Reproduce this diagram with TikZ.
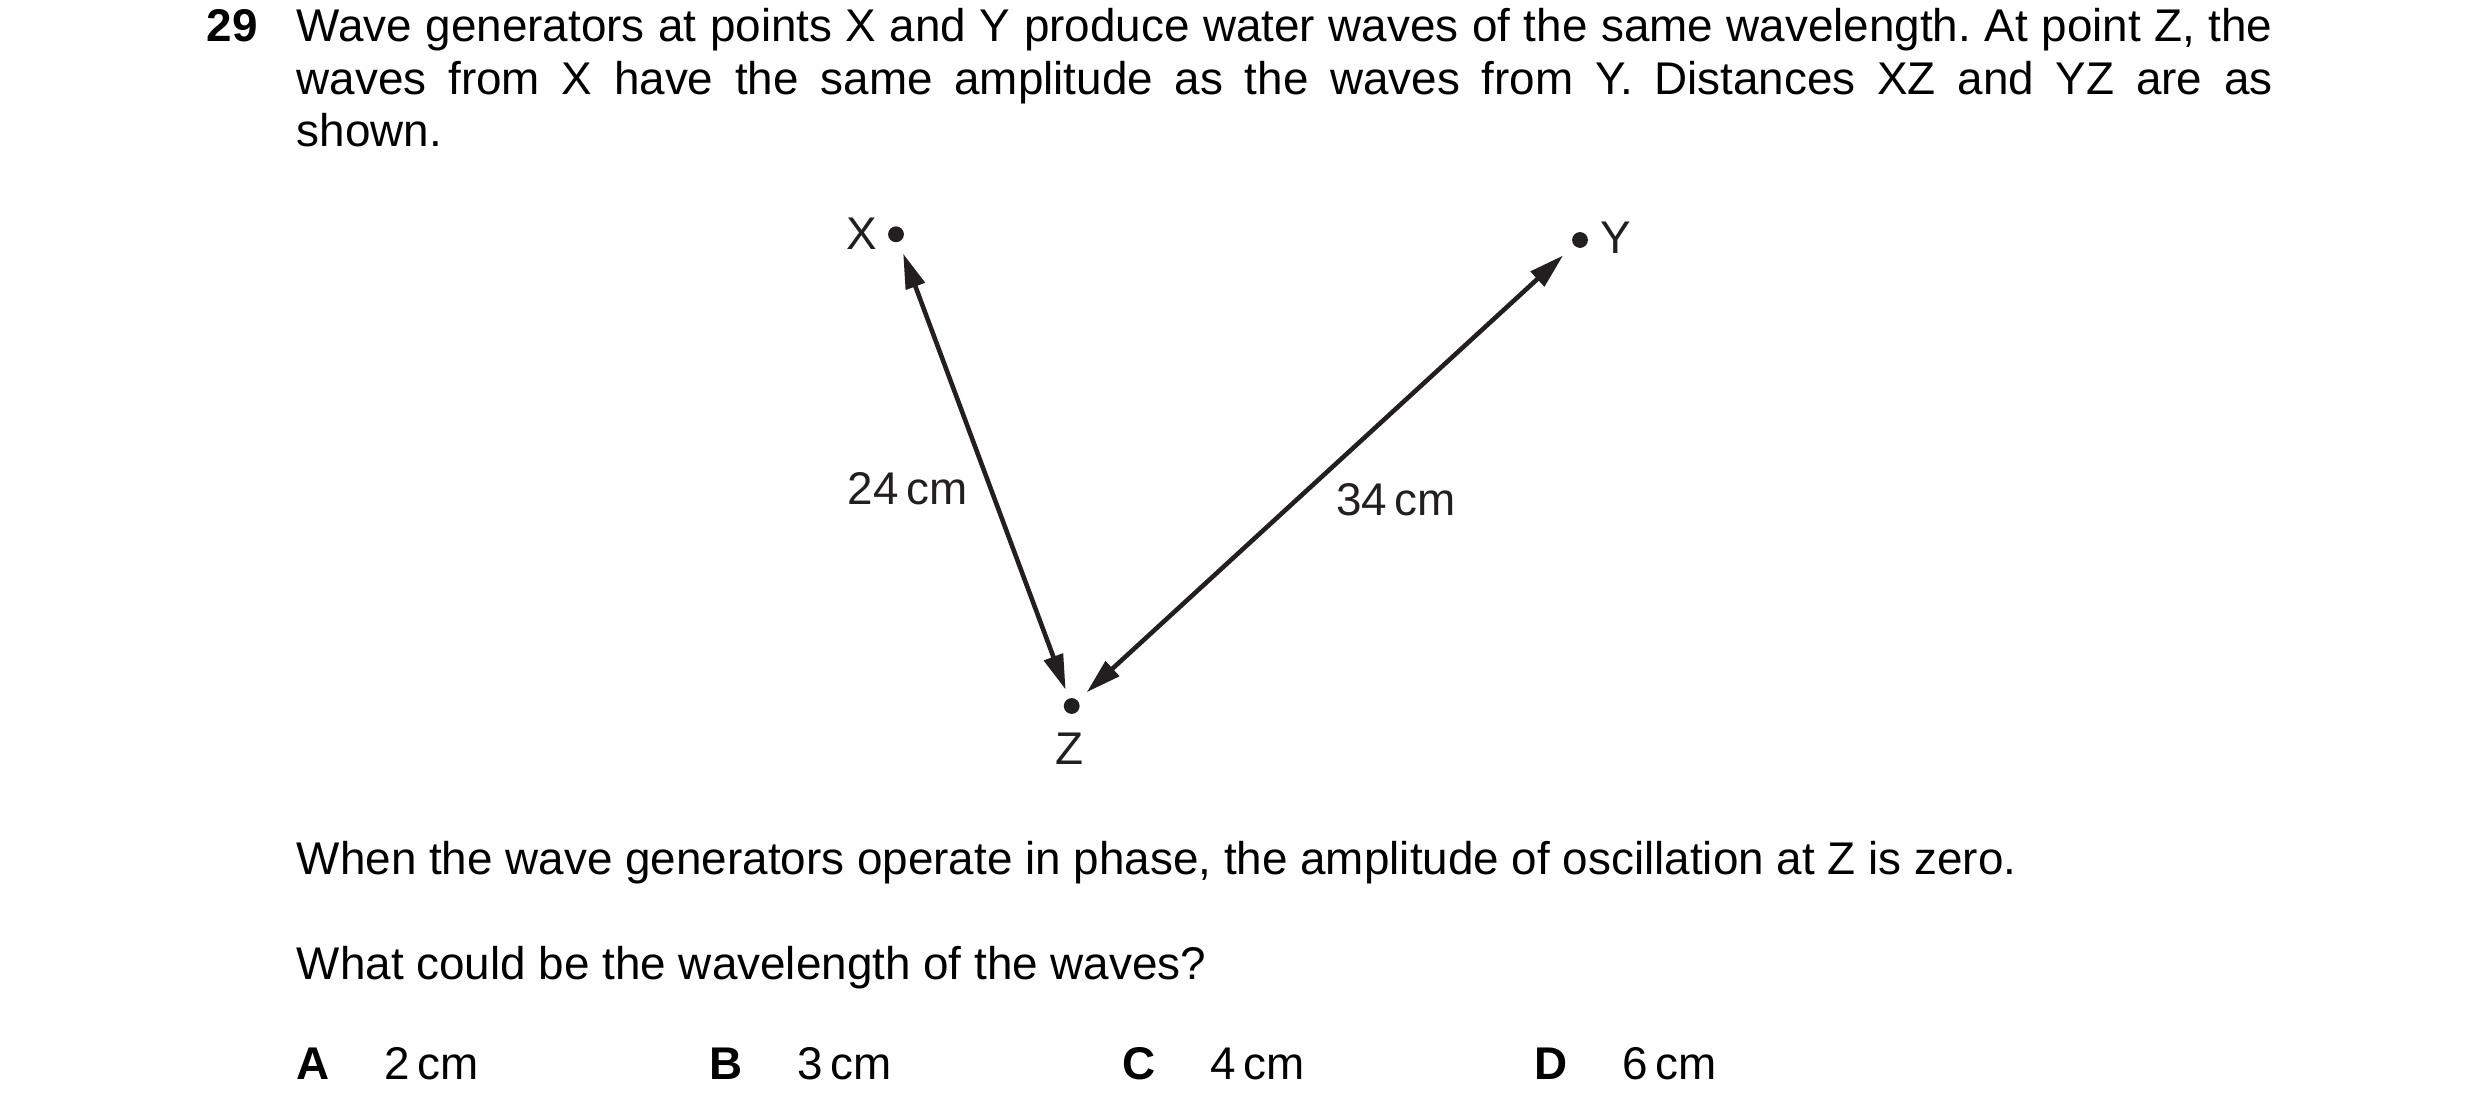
\documentclass[tikz,border=0pt]{standalone}
\usepackage{fontspec}
\setmainfont{Liberation Sans}
\usetikzlibrary{arrows.meta}
\definecolor{ink}{HTML}{231F20}
\frenchspacing

\begin{document}
\begin{tikzpicture}[x=0.24pt,y=-0.24pt,
	font=\fontsize{11pt}{12.7pt}\selectfont,
	txt/.style={anchor=base west,inner sep=0pt},
	dot/.style={circle,fill=ink,inner sep=0pt,minimum size=3.8pt},
	lbl/.style={inner sep=0pt,text=ink},
	twoway/.style={ink,line width=1.1pt,
		{Triangle[length=8.4pt,width=4.7pt]}-{Triangle[length=8.4pt,width=4.7pt]}}]
		
		\useasboundingbox (0,0) rectangle (2480,1119);
		
		% Question
		\node[txt,font=\fontsize{11pt}{12.7pt}\selectfont\bfseries] (num) at (206,42) {29};
		\node[txt] (qline1) at (296,42) {\makebox[474.2pt][s]{Wave generators at points X and Y produce water waves of the same wavelength. At point Z, the}};
		\node[txt] (qline2) at (296,94.5) {\makebox[474.2pt][s]{waves from X have the same amplitude as the waves from Y. Distances XZ and YZ are as}};
		\node[txt] (qline3) at (296,147) {shown.};
		
		% Sources and point Z
		\node[dot] (X) at (896,234.3) {};
		\node[dot] (Y) at (1580,240) {};
		\node[dot] (Z) at (1071.7,706) {};
		\node[lbl] (Xlbl) at (861.7,233.7) {X};
		\node[lbl] (Ylbl) at (1616,237.5) {Y};
		\node[lbl] (Zlbl) at (1069.3,749) {Z};
		
		% Distances
		\draw[twoway,shorten <=2.85pt,shorten >=2.1pt] (X) -- (Z);
		\draw[twoway,shorten <=3.4pt,shorten >=2.8pt] (Y) -- (Z);
		\node[lbl] (XZlbl) at (907.7,488.5) {24\,cm};
		\node[lbl] (YZlbl) at (1396,500) {34\,cm};
		
		% Stem
		\node[txt] (stem1) at (296,875) {When the wave generators operate in phase, the amplitude of oscillation at Z is zero.};
		\node[txt] (stem2) at (296,979.5) {What could be the wavelength of the waves?};
		
		% Options
		\node[txt,font=\fontsize{11pt}{12.7pt}\selectfont\bfseries] (optA) at (296,1079.3) {A};
		\node[txt] (valA) at (384,1079.3) {2\,cm};
		\node[txt,font=\fontsize{11pt}{12.7pt}\selectfont\bfseries] (optB) at (709,1079.3) {B};
		\node[txt] (valB) at (797,1079.3) {3\,cm};
		\node[txt,font=\fontsize{11pt}{12.7pt}\selectfont\bfseries] (optC) at (1122,1079.3) {C};
		\node[txt] (valC) at (1210,1079.3) {4\,cm};
		\node[txt,font=\fontsize{11pt}{12.7pt}\selectfont\bfseries] (optD) at (1534,1079.3) {D};
		\node[txt] (valD) at (1622,1079.3) {6\,cm};
		
	\end{tikzpicture}
\end{document}
